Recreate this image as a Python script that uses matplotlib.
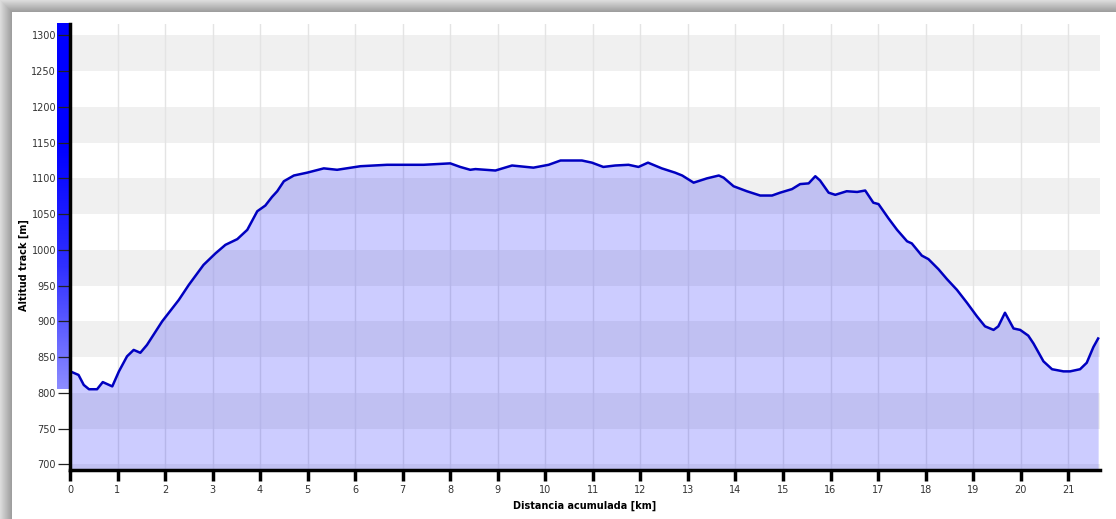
import numpy as np
import matplotlib.pyplot as plt
from matplotlib.patches import Rectangle
from matplotlib.colors import LinearSegmentedColormap

# perfil de altitud
km = [0.0, 0.04, 0.18, 0.29, 0.40, 0.57, 0.69, 0.89, 1.03, 1.20, 1.34, 1.48, 1.62,
      1.94, 2.29, 2.50, 2.81, 3.06, 3.27, 3.52, 3.73, 3.94, 4.11, 4.25, 4.36, 4.50,
      4.71, 4.99, 5.34, 5.62, 6.11, 6.67, 7.44, 8.00, 8.21, 8.42, 8.53, 8.95, 9.30,
      9.75, 10.07, 10.32, 10.77, 10.98, 11.22, 11.47, 11.75, 11.96, 12.16, 12.45,
      12.73, 12.88, 13.12, 13.40, 13.65, 13.75, 13.96, 14.24, 14.52, 14.77, 14.94,
      15.19, 15.36, 15.54, 15.68, 15.78, 15.96, 16.10, 16.34, 16.56, 16.73, 16.90,
      17.01, 17.22, 17.40, 17.61, 17.71, 17.92, 18.06, 18.27, 18.45, 18.66, 18.87,
      19.08, 19.25, 19.43, 19.53, 19.67, 19.85, 19.99, 20.16, 20.27, 20.48, 20.66,
      20.90, 21.04, 21.25, 21.39, 21.53, 21.63]
alt = [830, 829, 825, 811, 805, 805, 815, 809, 830, 851, 860, 856, 867,
       900, 930, 951, 979, 995, 1007, 1015, 1028, 1054, 1062, 1074, 1082, 1096,
       1104, 1108, 1114, 1112, 1117, 1119, 1119, 1121, 1116, 1112, 1113, 1111, 1118,
       1115, 1119, 1125, 1125, 1122, 1116, 1118, 1119, 1116, 1122, 1114,
       1108, 1104, 1094, 1100, 1104, 1101, 1089, 1082, 1076, 1076, 1080,
       1085, 1092, 1093, 1103, 1097, 1080, 1077, 1082, 1081, 1083, 1066,
       1064, 1044, 1028, 1012, 1009, 992, 987, 973, 959, 944, 926,
       907, 893, 888, 893, 912, 890, 888, 880, 869, 844, 833,
       830, 830, 833, 842, 864, 876]
x_ticks = list(range(0, 22))
y_ticks = list(range(700, 1301, 50))

y_min, y_max = 692, 1316
x_max = 21.67

fig = plt.figure(figsize=(11.16, 5.19), dpi=100)

# marco con sombra
bg = fig.add_axes([0, 0, 1, 1], zorder=-10)
bg.set_xlim(0, 1116)
bg.set_ylim(519, 0)
bg.axis('off')
for i in range(12):
    g = 0.86 - 0.022 * i
    bg.add_patch(Rectangle((i, i), 1116, 519, color=(g, g, g), lw=0))
bg.add_patch(Rectangle((12, 12), 1116, 519, color='white', lw=0))

ax = fig.add_axes([0.0627, 0.0944, 0.923, 0.8594])
ax.set_facecolor('none')

# bandas grises
for b in range(650, 1300, 100):
    ax.axhspan(b, b + 50, color='#f0f0f0', lw=0, zorder=0)
for k in x_ticks:
    ax.axvline(k, color='#e4e4e4', lw=1, zorder=0.5)

ax.fill_between(km, y_min, alt, color='blue', alpha=0.2, lw=0, zorder=1)
ax.plot(km, alt, color='#0000c0', lw=1.8, zorder=2)

# barra de rango de altitud
cmap = LinearSegmentedColormap.from_list('b', ['#8c8cff', '#3030ff', '#0000ff', '#0000ff'])
grad = np.linspace(0, 1, 256).reshape(-1, 1)
ax.imshow(grad, cmap=cmap, aspect='auto', origin='lower',
          extent=[-0.27, -0.03, min(alt), y_max], clip_on=False, zorder=0.8)

ax.set_xlim(0, x_max)
ax.set_ylim(y_min, y_max)
ax.set_xticks(x_ticks)
ax.set_yticks(y_ticks)

for s in ['top', 'right']:
    ax.spines[s].set_visible(False)
ax.spines['left'].set_linewidth(2.5)
ax.spines['bottom'].set_linewidth(2.5)

ax.tick_params(axis='x', length=8, width=2.5, color='black', labelsize=7,
               labelcolor='#333333', pad=3)
ax.tick_params(axis='y', length=9, width=0.9, color='#222222', labelsize=7,
               labelcolor='#333333', pad=1)

ax.set_xlabel('Distancia acumulada [km]', fontsize=7, fontweight='bold', labelpad=4)
ax.set_ylabel('Altitud track [m]', fontsize=7, fontweight='bold')
ax.yaxis.set_label_coords(-0.040, 0.46)

plt.savefig('out.png', dpi=100)
plt.close()
